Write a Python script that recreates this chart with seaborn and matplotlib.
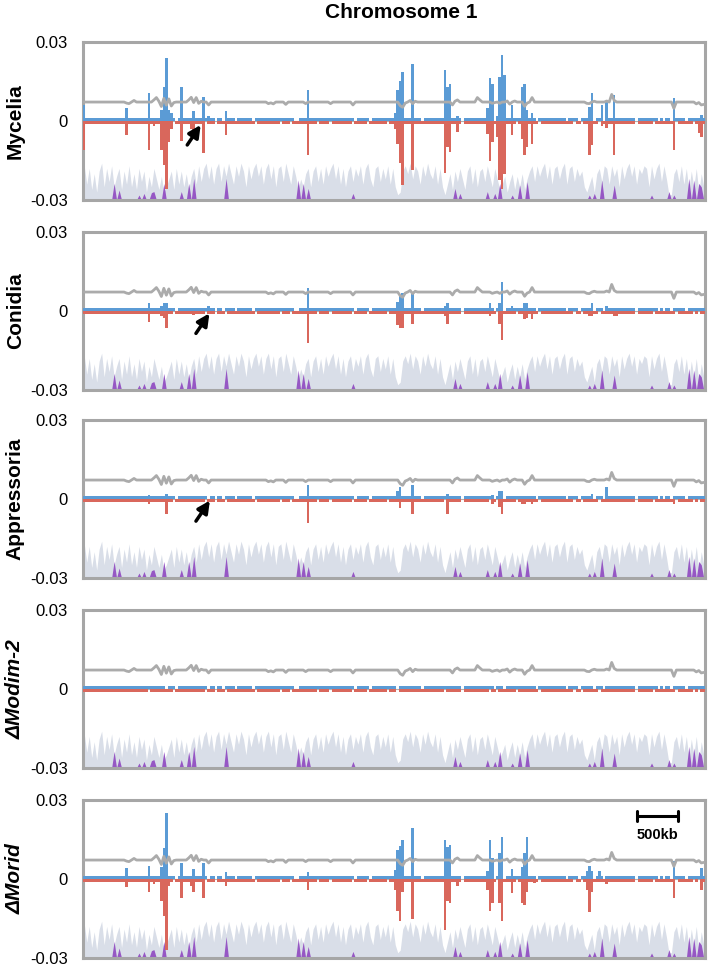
import numpy as np
import pandas as pd
import matplotlib
matplotlib.use("Agg")
import matplotlib.pyplot as plt
import seaborn as sns

sns.set_theme(style="white")
plt.rcParams['font.family'] = ['Liberation Sans', 'DejaVu Sans']
plt.rcParams['text.color'] = 'black'
plt.rcParams['ytick.color'] = 'black'

# ---------------- data ----------------
N_BINS = 250
BIN_KB = 30
title = "Chromosome 1"
panel_labels = ["Mycelia", "Conidia", "Appressoria", "\u0394Modim-2", "\u0394Morid"]
label_italic = [False, False, False, True, True]
yticks = [-0.03, 0, 0.03]
ytick_labels = ["-0.03", "0", "0.03"]

# background track (height above -0.03, x1e-3), one value per bin
bg_height = [
    13, 6, 12, 4, 10, 3, 11, 14, 5, 12,
    7, 13, 5, 9, 12, 4, 11, 6, 13, 5,
    10, 4, 12, 7, 11, 3, 9, 5, 12, 8,
    4, 9, 3, 5, 8, 11, 4, 12, 6, 11,
    5, 10, 4, 9, 12, 6, 13, 7, 12, 14,
    8, 13, 6, 12, 14, 7, 13, 9, 14, 10,
    6, 13, 9, 14, 11, 5, 13, 8, 12, 14,
    9, 13, 6, 12, 14, 8, 13, 5, 12, 13,
    7, 14, 10, 6, 13, 9, 4, 8, 5, 10,
    12, 5, 11, 13, 7, 12, 6, 13, 9, 12,
    14, 8, 13, 6, 12, 5, 11, 13, 7, 12,
    9, 13, 6, 12, 14, 8, 5, 12, 13, 7,
    12, 8, 13, 6, 12, 5, 2, 3, 11, 13,
    10, 14, 8, 13, 11, 6, 13, 9, 14, 10,
    8, 13, 6, 12, 5, 2, 6, 10, 4, 11,
    7, 12, 8, 4, 11, 13, 6, 12, 5, 11,
    12, 7, 13, 9, 5, 12, 8, 4, 6, 9,
    3, 7, 10, 4, 9, 5, 10, 4, 8, 11,
    13, 7, 13, 9, 12, 14, 8, 13, 6, 12,
    13, 8, 12, 14, 6, 12, 13, 7, 12, 9,
    11, 5, 3, 6, 9, 3, 10, 12, 7, 13,
    12, 6, 13, 9, 12, 5, 13, 8, 12, 14,
    9, 13, 6, 12, 10, 13, 12, 5, 13, 8,
    12, 14, 7, 13, 8, 2, 2, 10, 12, 7,
    13, 6, 12, 4, 11, 5, 12, 3, 10, 5,
]

# purple spikes: bin -> height above -0.03 (x1e-3)
purple_bins = [12, 14, 22, 24, 27, 28, 32, 39, 42, 44, 57, 86, 88, 90, 108, 149, 151,
               162, 165, 167, 172, 175, 178, 203, 205, 208, 213, 228, 235, 237, 243,
               245, 247, 248]
purple_height = [6.3, 3.8, 1.9, 2.5, 2.8, 3.2, 6.3, 3.2, 6.3, 8.2, 8.2, 7.6, 6.3, 4.4,
                 2.5, 4.4, 2.5, 3.2, 2.5, 6.3, 1.9, 5.7, 7.0, 1.9, 2.5, 7.6, 5.7, 1.9,
                 3.2, 1.9, 8.2, 7.6, 6.3, 5.0]

# gray line: typical level and read deviations (x1e-3)
gray_level = 7.2
gray_dev_bins = [17, 18, 20, 28, 29, 30, 31, 32, 33, 34, 35, 36, 42, 43, 44, 45, 46, 47,
                 50, 74, 75, 76, 81, 89, 99, 108, 127, 128, 129, 131, 132, 133, 148, 149,
                 150, 158, 159, 164, 165, 167, 170, 171, 173, 177, 178, 180, 202, 203,
                 205, 210, 212, 213, 237, 246, 247, 248, 249]
gray_dev_vals = [6.8, 6.6, 7.8, 8.0, 8.9, 7.5, 5.5, 8.6, 6.0, 8.4, 5.7, 7.0, 8.0, 9.0,
                 7.0, 8.9, 6.7, 7.5, 6.1, 6.6, 6.9, 6.5, 6.3, 6.6, 6.6, 6.1, 5.8, 5.2,
                 6.8, 7.8, 6.6, 7.5, 6.1, 7.5, 8.0, 8.9, 8.0, 6.7, 7.0, 6.7, 7.6, 6.4,
                 7.6, 5.6, 6.8, 8.9, 6.7, 6.6, 7.5, 7.6, 10.1, 7.8, 4.8, 6.5, 7.0, 6.1,
                 6.3]

# small baseline bars present in most bins
baseline_up = 0.001
baseline_down = -0.001
blue_gaps = [33, 37, 50, 53, 56, 61, 68, 85, 86, 109, 115, 126, 136, 152, 165, 169, 182,
             194, 199, 205, 209, 222, 231, 233, 236, 242]
red_gaps = [26, 36, 49, 53, 57, 69, 79, 83, 94, 99, 108, 114, 122, 126, 145, 152, 163,
            166, 174, 183, 197, 200, 207, 222, 229, 238, 245, 247]

# peaks per panel: bin, positive value, negative value
myc_bins = [0, 17, 26, 28, 31, 32, 33, 34, 35, 39, 43, 44, 48, 50, 57, 90, 125, 126, 127,
            128, 132, 145, 146, 147, 150, 162, 163, 164, 166, 167, 168, 169, 172, 176,
            177, 178, 180, 203, 204, 208, 210, 213, 237, 247, 248]
myc_pos = [0.006, 0.005, 0.0105, 0.001, 0.004, 0.013, 0.024, 0.004, 0.003, 0.0128, 0.001,
           0.0038, 0.0092, 0.002, 0.0038, 0.0118, 0.003, 0.0118, 0.015, 0.0185, 0.0216,
           0.0194, 0.013, 0.014, 0.002, 0.0048, 0.0162, 0.014, 0.002, 0.0168, 0.025,
           0.0175, 0.006, 0.013, 0.014, 0.004, 0.003, 0.0054, 0.0105, 0.006, 0.0073,
           0.0099, 0.0089, 0.001, 0.0023]
myc_neg = [-0.011, -0.0052, -0.011, -0.002, -0.011, -0.0167, -0.026, -0.008, -0.003,
           -0.0076, -0.003, -0.005, -0.012, -0.001, -0.0054, -0.013, -0.003, -0.0086,
           -0.016, -0.0244, -0.0187, -0.0197, -0.0099, -0.0118, -0.004, -0.0048, -0.0152,
           -0.008, -0.006, -0.0225, -0.026, -0.020, -0.0052, -0.0067, -0.013, -0.010,
           -0.0086, -0.013, -0.009, -0.002, -0.0025, -0.013, -0.0109, -0.0045, -0.006]

con_bins = [26, 31, 32, 33, 44, 50, 90, 126, 127, 128, 132, 145, 146, 163, 167, 168, 172,
            177, 178, 180, 203, 204, 210, 213, 214]
con_pos = [0.003, 0.002, 0.003, 0.003, 0.001, 0.002, 0.0089, 0.0035, 0.006, 0.0067,
           0.0063, 0.002, 0.003, 0.003, 0.003, 0.011, 0.002, 0.003, 0.003, 0.001, 0.001,
           0.003, 0.002, 0.001, 0.001]
con_neg = [-0.0042, -0.002, -0.0025, -0.0063, -0.0015, -0.001, -0.0123, -0.0055, -0.0066,
           -0.0063, -0.0048, -0.002, -0.005, -0.002, -0.005, -0.011, -0.001, -0.003,
           -0.0025, -0.003, -0.002, -0.002, -0.001, -0.002, -0.002]

app_bins = [26, 33, 90, 126, 127, 132, 146, 164, 167, 168, 176, 177, 180, 204, 210, 237]
app_pos = [0.0016, 0.002, 0.0054, 0.003, 0.0044, 0.0054, 0.002, 0.0016, 0.003, 0.003,
           0.001, 0.001, 0.001, 0.002, 0.0044, 0.001]
app_neg = [-0.002, -0.0057, -0.009, -0.001, -0.0034, -0.0057, -0.0057, -0.002, -0.003,
           -0.0057, -0.002, -0.002, -0.002, -0.001, -0.001, -0.002]

mod_bins = []
mod_pos = []
mod_neg = []

mor_bins = [17, 26, 28, 31, 32, 33, 34, 39, 43, 44, 48, 57, 90, 125, 126, 127, 128, 132,
            145, 146, 147, 150, 162, 163, 164, 167, 168, 172, 176, 177, 178, 181, 202,
            203, 204, 207, 210, 213, 237, 248]
mor_pos = [0.004, 0.005, 0.001, 0.0045, 0.0118, 0.025, 0.0013, 0.006, 0.001, 0.0038,
           0.006, 0.0028, 0.0028, 0.0035, 0.011, 0.0127, 0.015, 0.0194, 0.015, 0.012,
           0.013, 0.001, 0.003, 0.015, 0.008, 0.010, 0.0158, 0.0038, 0.0045, 0.010,
           0.0158, 0.001, 0.003, 0.005, 0.003, 0.003, 0.001, 0.001, 0.007, 0.004]
mor_neg = [-0.003, -0.005, -0.002, -0.0085, -0.014, -0.027, -0.0025, -0.0072, -0.0028,
           -0.005, -0.0072, -0.0028, -0.004, -0.004, -0.0123, -0.016, -0.005, -0.0152,
           -0.0192, -0.0085, -0.009, -0.0028, -0.004, -0.0123, -0.009, -0.009, -0.016,
           -0.0053, -0.009, -0.0097, -0.005, -0.0015, -0.004, -0.0127, -0.005, -0.001,
           -0.002, -0.001, -0.0072, -0.004]

# arrows (bin, value) tail -> head for first three panels
arrow_tail = [(41.9, -0.0091), (45.4, -0.0085), (45.4, -0.0084)]
arrow_head = [(47.3, -0.0015), (50.8, -0.0009), (51.0, -0.0006)]

scale_bar_kb = 500
scale_bar_start_kb = 6675
scale_bar_y = 0.024

# ---------------- colours ----------------
BLUE = "#5B9BD5"
RED = "#D9675C"
GRAYLINE = "#ABABAB"
AREA = "#D9DEE8"
PURPLE = "#9657C4"
FRAME = "#A6A6A6"

centers = np.arange(N_BINS) * BIN_KB + BIN_KB / 2
bg = -0.03 + np.array(bg_height) / 1000.0
purple = np.full(N_BINS, -0.03)
purple[purple_bins] = -0.03 + np.array(purple_height) / 1000.0
gray = np.full(N_BINS, gray_level)
gray[gray_dev_bins] = gray_dev_vals
gray = gray / 1000.0

panels = [(myc_bins, myc_pos, myc_neg), (con_bins, con_pos, con_neg),
          (app_bins, app_pos, app_neg), (mod_bins, mod_pos, mod_neg),
          (mor_bins, mor_pos, mor_neg)]

W, H = 717, 972
fig = plt.figure(figsize=(W / 100, H / 100), dpi=100)
bottoms_px = [200, 390, 578, 768, 958]
ax_h = 158

for k, (bins, pos, neg) in enumerate(panels):
    ax = fig.add_axes([83 / W, 1 - bottoms_px[k] / H, 622 / W, ax_h / H])
    up = np.full(N_BINS, baseline_up)
    up[blue_gaps] = 0.0
    down = np.full(N_BINS, baseline_down)
    down[red_gaps] = 0.0
    if bins:
        up[bins] = pos
        down[bins] = neg

    ax.fill_between(centers, -0.03, bg, color=AREA, lw=0, zorder=1)
    ax.fill_between(centers, -0.03, purple, color=PURPLE, lw=0, zorder=2)
    ax.axhline(0, color="#B0B0B0", lw=0.8, zorder=2.5)

    df = pd.DataFrame({"pos": centers, "up": up, "down": down})
    sns.barplot(data=df, x="pos", y="up", native_scale=True, color=BLUE, width=1.0,
                errorbar=None, saturation=1, linewidth=0, edgecolor="none", ax=ax,
                zorder=3)
    sns.barplot(data=df, x="pos", y="down", native_scale=True, color=RED, width=1.0,
                errorbar=None, saturation=1, linewidth=0, edgecolor="none", ax=ax,
                zorder=3)
    sns.lineplot(x=centers, y=gray, color=GRAYLINE, lw=2.0, ax=ax, zorder=4)

    ax.set_xlim(0, N_BINS * BIN_KB)
    ax.set_ylim(-0.03, 0.03)
    ax.set_xticks([])
    ax.set_yticks(yticks)
    ax.set_yticklabels(ytick_labels, fontsize=12, color="black")
    ax.tick_params(axis="y", length=0, pad=11)
    ax.set_xlabel("")
    ax.set_ylabel("")
    for sp in ax.spines.values():
        sp.set_color(FRAME)
        sp.set_linewidth(2.2)
        sp.set_visible(True)

    ax.text(-0.109, 0.5, panel_labels[k], transform=ax.transAxes, rotation=90,
            ha="center", va="center", fontsize=15, fontweight="bold", color="black",
            fontstyle="italic" if label_italic[k] else "normal")

    if k < 3:
        (tx, ty), (hx, hy) = arrow_tail[k], arrow_head[k]
        ax.annotate("", xy=(hx * BIN_KB, hy), xytext=(tx * BIN_KB, ty),
                    arrowprops=dict(arrowstyle="-|>,head_length=0.6,head_width=0.3",
                                    color="black", lw=2.5, shrinkA=0, shrinkB=0),
                    zorder=6)
    if k == 4:
        ax.plot([scale_bar_start_kb, scale_bar_start_kb + scale_bar_kb],
                [scale_bar_y, scale_bar_y], color="black", lw=2.2, zorder=6)
        for xe in [scale_bar_start_kb, scale_bar_start_kb + scale_bar_kb]:
            ax.plot([xe, xe], [scale_bar_y - 0.0018, scale_bar_y + 0.0018],
                    color="black", lw=2.2, zorder=6)
        ax.text(scale_bar_start_kb + scale_bar_kb / 2, 0.0167, "500kb",
                ha="center", va="center", fontsize=10.5, fontweight="bold",
                color="black")

fig.text(401 / W, 1 - 13 / H, title, ha="center", va="center", fontsize=15,
         fontweight="bold", color="black")

fig.savefig("out.png", dpi=100)
